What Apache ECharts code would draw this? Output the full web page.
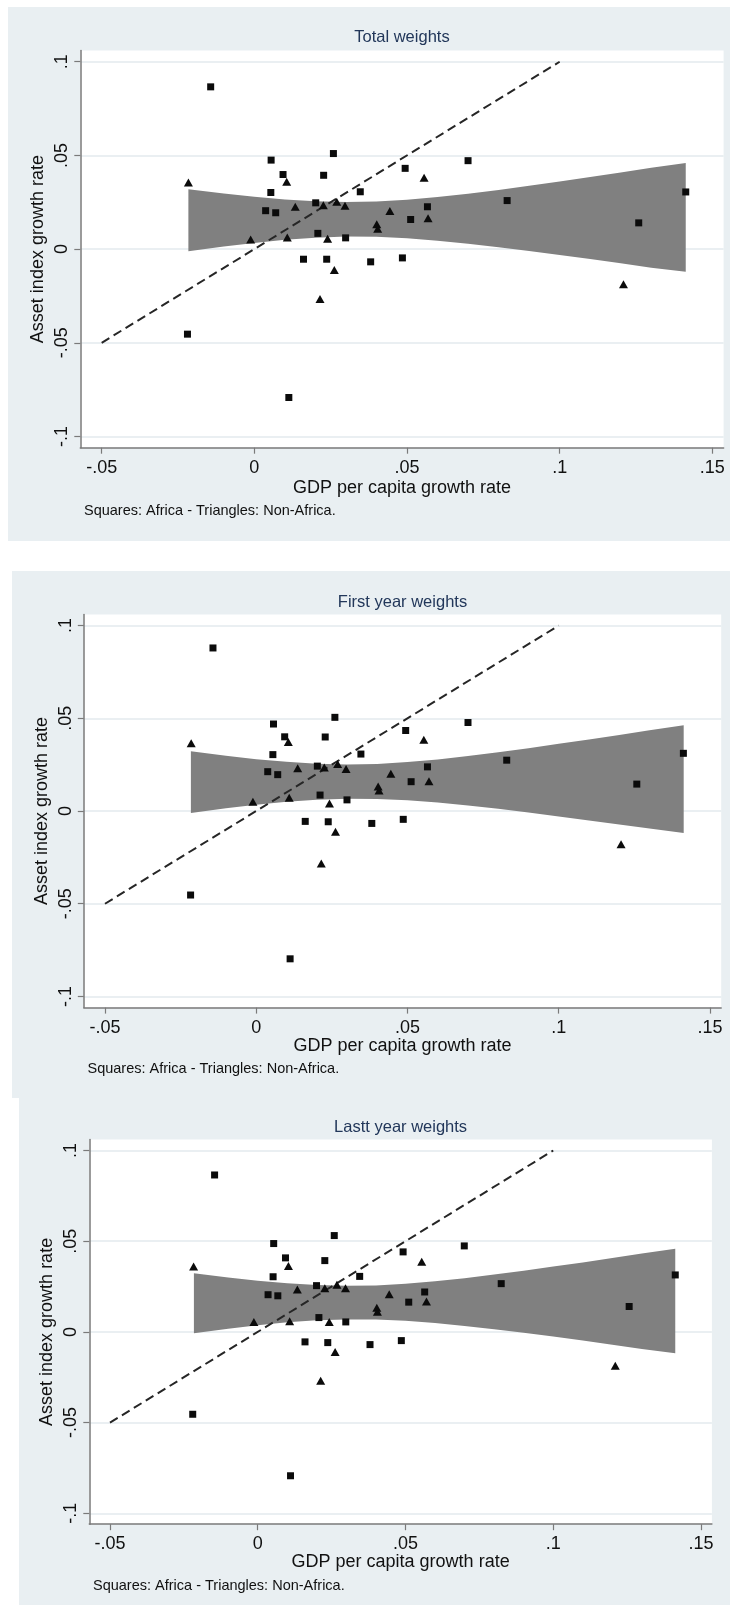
<!DOCTYPE html>
<html>
<head>
<meta charset="utf-8">
<script src="https://cdn.jsdelivr.net/npm/echarts@6/dist/echarts.min.js"></script>
<style>
  html, body { margin: 0; padding: 0; background: #ffffff; }
  #chart { width: 730px; height: 1605px; }
</style>
</head>
<body>
<div id="chart"></div>
<script>
// Tick positions and their Stata-style labels (shared by the three panels)
const xTickValues = [-0.05, 0, 0.05, 0.1, 0.15];
const xTickLabels = ['-.05', '0', '.05', '.1', '.15'];
const yTickValues = [-0.1, -0.05, 0, 0.05, 0.1];
const yTickLabels = ['-.1', '-.05', '0', '.05', '.1'];

const panelTitles = ['Total weights', 'First year weights', 'Lastt year weights'];
const xTitle = 'GDP per capita growth rate';
const yTitle = 'Asset index growth rate';
const noteText = 'Squares: Africa - Triangles: Non-Africa.';

// 45-degree reference line
const equalityLine = [[-0.05, -0.05], [0.1, 0.1]];

// [GDP per capita growth, asset index growth] -- total weights
const africaTotal = [
  [-0.0143, 0.0866], [0.0055, 0.0475], [0.0094, 0.0398], [0.0259, 0.0510],
  [0.0227, 0.0394], [0.0494, 0.0431], [0.0700, 0.0472], [0.0054, 0.0302],
  [0.0347, 0.0306], [0.0037, 0.0205], [0.0070, 0.0194], [0.0201, 0.0247],
  [0.0567, 0.0226], [0.0512, 0.0158], [0.0828, 0.0259], [0.1413, 0.0305],
  [0.1259, 0.0140], [0.0208, 0.0084], [0.0299, 0.0060], [0.0161, -0.0054],
  [0.0237, -0.0054], [0.0381, -0.0068], [0.0485, -0.0047], [-0.0219, -0.0454],
  [0.0113, -0.0792]
];
const nonAfricaTotal = [
  [-0.0216, 0.0356], [0.0106, 0.0359], [0.0556, 0.0381], [0.0134, 0.0226],
  [0.0226, 0.0234], [0.0270, 0.0253], [0.0297, 0.0231], [0.0444, 0.0204],
  [0.0401, 0.0133], [0.0404, 0.0109], [0.0569, 0.0164], [-0.0012, 0.0051],
  [0.0108, 0.0062], [0.0240, 0.0055], [0.0262, -0.0111], [0.0215, -0.0267],
  [0.1209, -0.0188]
];

// first year weights
const africaFirst = [
  [-0.0143, 0.0879], [0.0057, 0.0469], [0.0094, 0.0400], [0.0260, 0.0505],
  [0.0228, 0.0399], [0.0494, 0.0434], [0.0700, 0.0477], [0.0055, 0.0304],
  [0.0346, 0.0307], [0.0038, 0.0212], [0.0071, 0.0196], [0.0202, 0.0242],
  [0.0566, 0.0238], [0.0512, 0.0158], [0.0828, 0.0274], [0.1412, 0.0311],
  [0.1258, 0.0145], [0.0211, 0.0086], [0.0300, 0.0060], [0.0162, -0.0056],
  [0.0238, -0.0058], [0.0382, -0.0067], [0.0486, -0.0045], [-0.0217, -0.0453],
  [0.0112, -0.0797]
];
const nonAfricaFirst = [
  [-0.0215, 0.0365], [0.0106, 0.0372], [0.0554, 0.0384], [0.0137, 0.0231],
  [0.0225, 0.0235], [0.0269, 0.0253], [0.0297, 0.0227], [0.0445, 0.0201],
  [0.0403, 0.0132], [0.0406, 0.0110], [0.0571, 0.0160], [-0.0011, 0.0050],
  [0.0109, 0.0071], [0.0242, 0.0041], [0.0262, -0.0112], [0.0215, -0.0283],
  [0.1206, -0.0179]
];

// last year weights
const africaLast = [
  [-0.0146, 0.0865], [0.0054, 0.0487], [0.0094, 0.0408], [0.0259, 0.0531],
  [0.0227, 0.0393], [0.0492, 0.0441], [0.0699, 0.0474], [0.0052, 0.0304],
  [0.0345, 0.0306], [0.0035, 0.0205], [0.0068, 0.0199], [0.0199, 0.0255],
  [0.0565, 0.0220], [0.0511, 0.0164], [0.0824, 0.0266], [0.1413, 0.0314],
  [0.1257, 0.0140], [0.0207, 0.0079], [0.0298, 0.0055], [0.0160, -0.0055],
  [0.0237, -0.0059], [0.0380, -0.0070], [0.0486, -0.0048], [-0.0220, -0.0454],
  [0.0111, -0.0793]
];
const nonAfricaLast = [
  [-0.0217, 0.0360], [0.0104, 0.0363], [0.0555, 0.0386], [0.0134, 0.0234],
  [0.0227, 0.0240], [0.0268, 0.0260], [0.0297, 0.0240], [0.0445, 0.0207],
  [0.0403, 0.0133], [0.0405, 0.0111], [0.0571, 0.0168], [-0.0013, 0.0055],
  [0.0108, 0.0059], [0.0242, 0.0055], [0.0262, -0.0111], [0.0213, -0.0269],
  [0.1210, -0.0186]
];

// Confidence band of the fit: x positions and upper / lower bounds
const bandX = [-0.0216, -0.01, 0, 0.01, 0.02, 0.03, 0.04, 0.05, 0.06, 0.07, 0.08, 0.09, 0.10, 0.11, 0.12, 0.13, 0.1413];
const bandUpperTotal = [0.0320, 0.0297, 0.0279, 0.0265, 0.0255, 0.0251, 0.0254, 0.0264, 0.0278, 0.0296, 0.0316, 0.0338, 0.0361, 0.0385, 0.0409, 0.0434, 0.0460];
const bandLowerTotal = [-0.0012, 0.0014, 0.0033, 0.0050, 0.0061, 0.0067, 0.0066, 0.0058, 0.0045, 0.0029, 0.0010, -0.0010, -0.0031, -0.0053, -0.0076, -0.0099, -0.0121];
const bandUpperFirst = [0.0322, 0.0298, 0.0279, 0.0265, 0.0255, 0.0251, 0.0254, 0.0264, 0.0278, 0.0296, 0.0317, 0.0339, 0.0362, 0.0386, 0.0410, 0.0436, 0.0463];
const bandLowerFirst = [-0.0011, 0.0015, 0.0034, 0.0050, 0.0061, 0.0066, 0.0065, 0.0058, 0.0046, 0.0030, 0.0012, -0.0008, -0.0029, -0.0051, -0.0073, -0.0095, -0.0118];
const bandUpperLast = [0.0323, 0.0300, 0.0282, 0.0268, 0.0258, 0.0254, 0.0256, 0.0265, 0.0279, 0.0296, 0.0316, 0.0337, 0.0360, 0.0383, 0.0407, 0.0432, 0.0459];
const bandLowerLast = [-0.0007, 0.0018, 0.0037, 0.0053, 0.0064, 0.0069, 0.0068, 0.0061, 0.0049, 0.0033, 0.0015, -0.0005, -0.0026, -0.0048, -0.0071, -0.0094, -0.0117];

// ---- layout and styling ----
const FONT = '"Liberation Sans", Arial, sans-serif';
const X_MIN = -0.057, X_MAX = 0.1537;
const Y_MIN = -0.106, Y_MAX = 0.106;
const PANEL_BG = '#e9eff2';
const AXIS_COLOR = '#7a7a7a';
const GRIDLINE_COLOR = '#e3eaee';
const BAND_COLOR = '#808080';
const MARK_COLOR = '#0b0b0b';
const TITLE_COLOR = '#22375a';

const panels = [
  { title: panelTitles[0], africa: africaTotal, nonAfrica: nonAfricaTotal,
    upper: bandUpperTotal, lower: bandLowerTotal,
    bg: [8, 7, 722, 534], grid: { left: 80.3, top: 50.5, width: 643.3, height: 397.2 },
    titleY: 37, xTitleY: 488, note: [84, 511] },
  { title: panelTitles[1], africa: africaFirst, nonAfrica: nonAfricaFirst,
    upper: bandUpperFirst, lower: bandLowerFirst,
    bg: [12, 571, 718, 527], grid: { left: 83.8, top: 614.4, width: 637.4, height: 393.2 },
    titleY: 602, xTitleY: 1046, note: [87.5, 1069] },
  { title: panelTitles[2], africa: africaLast, nonAfrica: nonAfricaLast,
    upper: bandUpperLast, lower: bandLowerLast,
    bg: [19, 1098, 711, 507], grid: { left: 89.3, top: 1139.6, width: 622.6, height: 384.6 },
    titleY: 1127, xTitleY: 1562, note: [93, 1585.5] }
];

function tickLabel(values, labels) {
  return function (v) {
    for (let i = 0; i < values.length; i++) {
      if (Math.abs(values[i] - v) < 1e-9) return labels[i];
    }
    return '';
  };
}

const grids = [], xAxes = [], yAxes = [], series = [], graphics = [];

panels.forEach(function (p, i) {
  const g = p.grid;
  const cx = g.left + g.width / 2;
  const cy = g.top + g.height / 2;

  graphics.push({
    type: 'rect', z: -100, silent: true,
    shape: { x: p.bg[0], y: p.bg[1], width: p.bg[2], height: p.bg[3] },
    style: { fill: PANEL_BG }
  });
  graphics.push({
    type: 'text', silent: true, x: cx, y: p.titleY,
    style: { text: p.title, font: '16.5px ' + FONT, fill: TITLE_COLOR,
             align: 'center', verticalAlign: 'middle', textAlign: 'center', textVerticalAlign: 'middle' }
  });
  graphics.push({
    type: 'text', silent: true, x: cx, y: p.xTitleY,
    style: { text: xTitle, font: '18px ' + FONT, fill: '#111111',
             align: 'center', verticalAlign: 'middle', textAlign: 'center', textVerticalAlign: 'middle' }
  });
  graphics.push({
    type: 'text', silent: true, x: g.left - 42, y: cy, rotation: Math.PI / 2,
    style: { text: yTitle, font: '18px ' + FONT, fill: '#111111',
             align: 'center', verticalAlign: 'middle', textAlign: 'center', textVerticalAlign: 'middle' }
  });
  graphics.push({
    type: 'text', silent: true, x: p.note[0], y: p.note[1],
    style: { text: noteText, font: '14.5px ' + FONT, fill: '#111111',
             align: 'left', verticalAlign: 'middle', textAlign: 'left', textVerticalAlign: 'middle' }
  });

  grids.push({
    left: g.left, top: g.top, width: g.width, height: g.height,
    show: true, backgroundColor: '#ffffff', borderWidth: 0,
    containLabel: false, outerBoundsMode: 'none'
  });

  xAxes.push({
    type: 'value', gridIndex: i, min: X_MIN, max: X_MAX,
    axisLine: { show: true, onZero: false, lineStyle: { color: AXIS_COLOR, width: 1.5 } },
    axisTick: { show: true, customValues: xTickValues, length: 6, lineStyle: { color: AXIS_COLOR, width: 1.2 } },
    axisLabel: { customValues: xTickValues, formatter: tickLabel(xTickValues, xTickLabels),
                 margin: 11, color: '#111111', fontSize: 18, fontFamily: FONT },
    splitLine: { show: false }
  });
  yAxes.push({
    type: 'value', gridIndex: i, min: Y_MIN, max: Y_MAX,
    axisLine: { show: true, onZero: false, lineStyle: { color: AXIS_COLOR, width: 1.5 } },
    axisTick: { show: true, customValues: yTickValues, length: 6, lineStyle: { color: AXIS_COLOR, width: 1.2 } },
    axisLabel: { customValues: yTickValues, formatter: tickLabel(yTickValues, yTickLabels),
                 rotate: 90, margin: 9, color: '#111111', fontSize: 18, fontFamily: FONT },
    splitLine: { show: true, lineStyle: { color: GRIDLINE_COLOR, width: 1.5 } }
  });

  // shaded confidence band
  series.push({
    type: 'custom', xAxisIndex: i, yAxisIndex: i, silent: true, z: 2,
    data: [[bandX[0], p.upper[0]]],
    renderItem: (function (upper, lower) {
      return function (params, api) {
        const pts = [];
        for (let k = 0; k < bandX.length; k++) pts.push(api.coord([bandX[k], upper[k]]));
        for (let k = bandX.length - 1; k >= 0; k--) pts.push(api.coord([bandX[k], lower[k]]));
        return { type: 'polygon', shape: { points: pts }, style: { fill: BAND_COLOR, stroke: null } };
      };
    })(p.upper, p.lower)
  });

  // y = x reference
  series.push({
    type: 'line', xAxisIndex: i, yAxisIndex: i, silent: true, z: 3,
    data: equalityLine, symbol: 'none',
    lineStyle: { color: '#262626', width: 2, type: [9, 5] }
  });

  // Africa: squares
  series.push({
    type: 'scatter', xAxisIndex: i, yAxisIndex: i, silent: true, z: 4,
    data: p.africa, symbol: 'rect', symbolSize: 7,
    itemStyle: { color: MARK_COLOR, opacity: 1 }
  });
  // Non-Africa: triangles
  series.push({
    type: 'scatter', xAxisIndex: i, yAxisIndex: i, silent: true, z: 4,
    data: p.nonAfrica, symbol: 'triangle', symbolSize: [9, 8],
    itemStyle: { color: MARK_COLOR, opacity: 1 }
  });
});

const chart = echarts.init(document.getElementById('chart'), null, { renderer: 'canvas' });
chart.setOption({
  animation: false,
  backgroundColor: '#ffffff',
  grid: grids,
  xAxis: xAxes,
  yAxis: yAxes,
  series: series,
  graphic: { elements: graphics }
});
</script>
</body>
</html>
